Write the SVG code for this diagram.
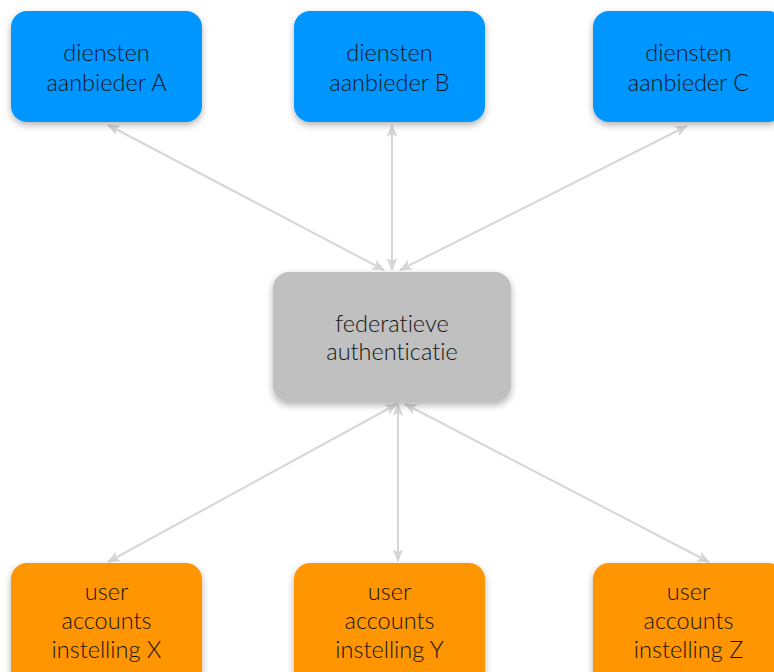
<svg xmlns="http://www.w3.org/2000/svg" width="774" height="672" viewBox="0 0 774 672">
  <defs>
    <filter id="shadow" x="-20%" y="-20%" width="140%" height="150%">
      <feDropShadow dx="0" dy="3" stdDeviation="3.5" flood-color="#000" flood-opacity="0.3"/>
    </filter>
    <marker id="head" viewBox="0 0 12 10" refX="11" refY="5" markerWidth="13" markerHeight="11" markerUnits="userSpaceOnUse" orient="auto-start-reverse">
      <path d="M0,0 L12,5 L0,10 L3,5 Z" fill="#d6d6d6"/>
    </marker>
    <style>
      .box { filter: url(#shadow); }
      .blue { fill: #0096ff; }
      .orange { fill: #ff9500; }
      .grey { fill: #c0c0c0; }
      .label { font-family: Lato, "Open Sans", "Liberation Sans", sans-serif; font-weight: 300; font-size: 23.5px; fill: #141414; text-anchor: middle; font-variant-ligatures: none; font-feature-settings: "liga" 0, "dlig" 0; }
      .link { stroke: #d6d6d6; stroke-width: 2; fill: none; marker-start: url(#head); marker-end: url(#head); }
    </style>
  </defs>
  <rect width="774" height="672" fill="#ffffff"/>

  <g id="connectors">
    <line class="link" x1="108" y1="125" x2="384" y2="270"/>
    <line class="link" x1="392" y1="125" x2="392" y2="270"/>
    <line class="link" x1="687" y1="126" x2="400" y2="270"/>
    <line class="link" x1="397" y1="404" x2="108" y2="562"/>
    <line class="link" x1="398" y1="404" x2="398" y2="561"/>
    <line class="link" x1="405" y1="404" x2="709" y2="562"/>
  </g>

  <g id="aanbieder-a">
    <rect class="box blue" x="11" y="11" width="191" height="111" rx="16"/>
    <text class="label" x="106.5" y="61">diensten</text>
    <text class="label" x="106.5" y="91">aanbieder A</text>
  </g>
  <g id="aanbieder-b">
    <rect class="box blue" x="294" y="11" width="191" height="111" rx="16"/>
    <text class="label" x="389.5" y="61">diensten</text>
    <text class="label" x="389.5" y="91">aanbieder B</text>
  </g>
  <g id="aanbieder-c">
    <rect class="box blue" x="593" y="11" width="191" height="111" rx="16"/>
    <text class="label" x="688.5" y="61">diensten</text>
    <text class="label" x="688.5" y="91">aanbieder C</text>
  </g>

  <g id="federatie">
    <rect class="box grey" x="273" y="272" width="238" height="130" rx="16"/>
    <text class="label" x="392" y="332">federatieve</text>
    <text class="label" x="392" y="360">authenticatie</text>
  </g>

  <g id="instelling-x">
    <rect class="box orange" x="11" y="563" width="191" height="125" rx="16"/>
    <text class="label" x="106.5" y="600">user</text>
    <text class="label" x="106.5" y="629">accounts</text>
    <text class="label" x="106.5" y="658">instelling X</text>
  </g>
  <g id="instelling-y">
    <rect class="box orange" x="294" y="563" width="191" height="125" rx="16"/>
    <text class="label" x="389.5" y="600">user</text>
    <text class="label" x="389.5" y="629">accounts</text>
    <text class="label" x="389.5" y="658">instelling Y</text>
  </g>
  <g id="instelling-z">
    <rect class="box orange" x="593" y="563" width="191" height="125" rx="16"/>
    <text class="label" x="688.5" y="600">user</text>
    <text class="label" x="688.5" y="629">accounts</text>
    <text class="label" x="688.5" y="658">instelling Z</text>
  </g>
</svg>
